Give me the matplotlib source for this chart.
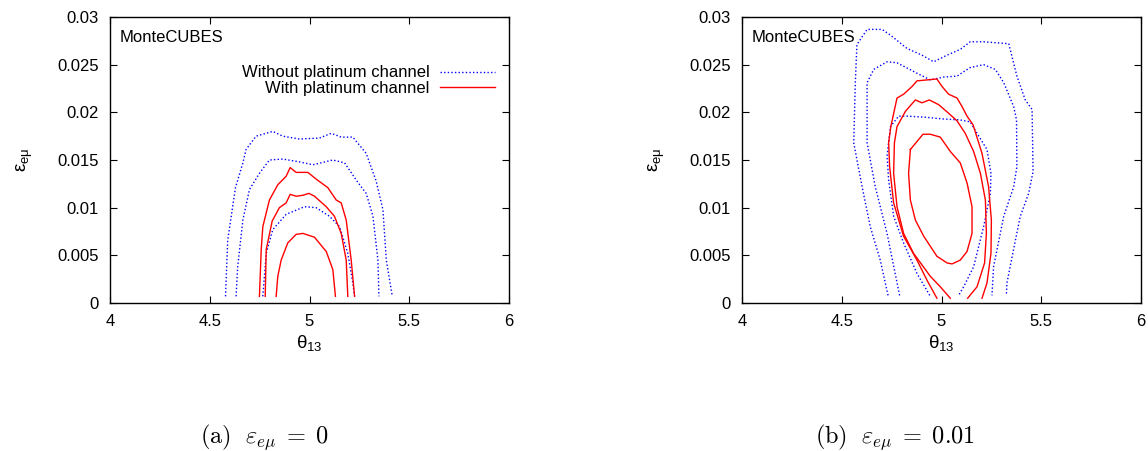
import matplotlib
matplotlib.use("Agg")
import matplotlib.pyplot as plt

plt.rcParams["font.family"] = ["Liberation Sans", "DejaVu Sans"]
plt.rcParams["mathtext.fontset"] = "custom"
plt.rcParams["mathtext.rm"] = "Liberation Sans"
plt.rcParams["mathtext.it"] = "Liberation Sans"
plt.rcParams["mathtext.bf"] = "Liberation Sans"

# ---- panel (a): eps_emu = 0 ----
a_blue_out_t = [4.579, 4.590, 4.629, 4.666, 4.682, 4.732, 4.816, 4.866, 4.950, 5.050, 5.109,
                5.159, 5.217, 5.284, 5.334, 5.368, 5.385, 5.415]
a_blue_out_e = [0.0007, 0.0066, 0.0121, 0.0147, 0.0161, 0.0175, 0.0180, 0.0175, 0.0172, 0.0173,
                0.0178, 0.0174, 0.0174, 0.0157, 0.0128, 0.0098, 0.0045, 0.0007]
a_blue_mid_t = [4.632, 4.640, 4.666, 4.699, 4.749, 4.799, 4.866, 4.950, 5.017, 5.117, 5.176,
                5.234, 5.284, 5.318, 5.343, 5.348]
a_blue_mid_e = [0.0007, 0.0038, 0.0087, 0.0119, 0.0136, 0.0150, 0.0151, 0.0148, 0.0145, 0.0150,
                0.0147, 0.0129, 0.0115, 0.0091, 0.0045, 0.0007]
a_blue_in_t = [4.766, 4.783, 4.816, 4.883, 4.975, 5.033, 5.100, 5.151, 5.192, 5.217, 5.226]
a_blue_in_e = [0.0007, 0.0052, 0.0077, 0.0093, 0.0101, 0.0100, 0.0091, 0.0080, 0.0052, 0.0021, 0.0007]

a_red_out_t = [4.749, 4.758, 4.766, 4.799, 4.841, 4.883, 4.903, 4.933, 4.992, 5.033, 5.092,
               5.134, 5.159, 5.184, 5.209, 5.226]
a_red_out_e = [0.0007, 0.0056, 0.0080, 0.0108, 0.0124, 0.0133, 0.0142, 0.0137, 0.0137, 0.0130,
               0.0121, 0.0108, 0.0105, 0.0087, 0.0045, 0.0007]
a_red_mid_t = [4.778, 4.783, 4.813, 4.849, 4.883, 4.903, 4.933, 4.967, 4.997, 5.025, 5.084,
               5.125, 5.159, 5.184, 5.192]
a_red_mid_e = [0.0007, 0.0056, 0.0086, 0.0100, 0.0105, 0.0114, 0.0112, 0.0113, 0.0115, 0.0112,
               0.0101, 0.0091, 0.0073, 0.0045, 0.0007]
a_red_in_t = [4.833, 4.841, 4.858, 4.891, 4.933, 4.967, 5.025, 5.084, 5.117, 5.130]
a_red_in_e = [0.0007, 0.0028, 0.0045, 0.0063, 0.0072, 0.0073, 0.0069, 0.0054, 0.0035, 0.0007]

# ---- panel (b): eps_emu = 0.01 ----
b_blue_out_t = [4.732, 4.693, 4.643, 4.602, 4.560, 4.568, 4.576, 4.627, 4.702, 4.744, 4.827,
                4.902, 4.961, 5.028, 5.094, 5.144, 5.211, 5.337, 5.378, 5.420, 5.454, 5.459,
                5.437, 5.395, 5.361, 5.328, 5.325]
b_blue_out_e = [0.0008, 0.0045, 0.0080, 0.0122, 0.0168, 0.0231, 0.0271, 0.0287, 0.0287, 0.0281,
                0.0267, 0.0260, 0.0253, 0.0260, 0.0266, 0.0274, 0.0274, 0.0272, 0.0238, 0.0213,
                0.0203, 0.0138, 0.0115, 0.0091, 0.0056, 0.0021, 0.0008]
b_blue_mid_t = [4.790, 4.727, 4.668, 4.627, 4.627, 4.660, 4.727, 4.777, 4.877, 4.944, 5.011,
                5.078, 5.144, 5.211, 5.270, 5.312, 5.362, 5.376, 5.378, 5.362, 5.312, 5.261, 5.253]
b_blue_mid_e = [0.0008, 0.0073, 0.0122, 0.0168, 0.0231, 0.0245, 0.0253, 0.0252, 0.0241, 0.0234,
                0.0237, 0.0238, 0.0247, 0.0250, 0.0245, 0.0231, 0.0206, 0.0192, 0.0143, 0.0122,
                0.0091, 0.0038, 0.0008]
b_blue_in_t = [4.941, 4.877, 4.810, 4.760, 4.735, 4.727, 4.744, 4.785, 4.827, 4.911, 5.011,
               5.094, 5.144, 5.178, 5.228, 5.248, 5.245, 5.211, 5.161, 5.111, 5.086]
b_blue_in_e = [0.0008, 0.0031, 0.0063, 0.0091, 0.0129, 0.0154, 0.0185, 0.0196, 0.0196, 0.0195,
               0.0193, 0.0192, 0.0190, 0.0178, 0.0161, 0.0136, 0.0115, 0.0080, 0.0038, 0.0017, 0.0008]

b_red_out_t = [4.977, 4.927, 4.877, 4.810, 4.760, 4.740, 4.735, 4.746, 4.777, 4.810, 4.852,
               4.877, 4.927, 4.977, 5.003, 5.036, 5.078, 5.103, 5.128, 5.158, 5.203, 5.236,
               5.250, 5.248, 5.228, 5.203]
b_red_out_e = [0.0005, 0.0024, 0.0045, 0.0070, 0.0105, 0.0143, 0.0168, 0.0185, 0.0215, 0.0219,
               0.0227, 0.0233, 0.0234, 0.0235, 0.0227, 0.0219, 0.0215, 0.0206, 0.0196, 0.0187,
               0.0157, 0.0122, 0.0087, 0.0052, 0.0021, 0.0005]
b_red_mid_t = [5.044, 4.994, 4.944, 4.860, 4.810, 4.777, 4.760, 4.764, 4.777, 4.819, 4.869,
               4.902, 4.939, 4.986, 5.036, 5.078, 5.119, 5.161, 5.195, 5.220, 5.225, 5.216,
               5.178, 5.131]
b_red_mid_e = [0.0005, 0.0017, 0.0028, 0.0052, 0.0073, 0.0101, 0.0136, 0.0168, 0.0185, 0.0201,
               0.0213, 0.0210, 0.0213, 0.0208, 0.0199, 0.0191, 0.0178, 0.0159, 0.0136, 0.0108,
               0.0073, 0.0042, 0.0017, 0.0005]
b_red_in_t = [4.844, 4.907, 4.944, 4.994, 5.044, 5.094, 5.128, 5.153, 5.153, 5.128, 5.094,
              5.053, 5.028, 4.977, 4.911, 4.869, 4.844, 4.835, 4.844]
b_red_in_e = [0.0161, 0.0177, 0.0177, 0.0174, 0.0159, 0.0147, 0.0126, 0.0101, 0.0073, 0.0054,
              0.0045, 0.0041, 0.0042, 0.0049, 0.0070, 0.0087, 0.0108, 0.0136, 0.0161]

x_ticks = [4, 4.5, 5, 5.5, 6]
x_tick_labels = ["4", "4.5", "5", "5.5", "6"]
y_ticks = [0, 0.005, 0.01, 0.015, 0.02, 0.025, 0.03]
y_tick_labels = ["0", "0.005", "0.01", "0.015", "0.02", "0.025", "0.03"]

BLUE = "#0000ff"
RED = "#ff0000"
FS = 12

fig = plt.figure(figsize=(11.48, 4.51), dpi=100)
ax_a = fig.add_axes([110 / 1148, 1 - 303 / 451, 399 / 1148, 286 / 451])
ax_b = fig.add_axes([742 / 1148, 1 - 303 / 451, 399 / 1148, 286 / 451])

blue_kw = dict(color=BLUE, lw=1.0, ls=(0, (1, 1.6)))
red_kw = dict(color=RED, lw=1.0)

ax_a.plot(a_blue_out_t, a_blue_out_e, label="Without platinum channel", **blue_kw)
ax_a.plot(a_blue_mid_t, a_blue_mid_e, **blue_kw)
ax_a.plot(a_blue_in_t, a_blue_in_e, **blue_kw)
ax_a.plot(a_red_out_t, a_red_out_e, label="With platinum channel", **red_kw)
ax_a.plot(a_red_mid_t, a_red_mid_e, **red_kw)
ax_a.plot(a_red_in_t, a_red_in_e, **red_kw)

ax_b.plot(b_blue_out_t, b_blue_out_e, **blue_kw)
ax_b.plot(b_blue_mid_t, b_blue_mid_e, **blue_kw)
ax_b.plot(b_blue_in_t, b_blue_in_e, **blue_kw)
ax_b.plot(b_red_out_t, b_red_out_e, **red_kw)
ax_b.plot(b_red_mid_t, b_red_mid_e, **red_kw)
ax_b.plot(b_red_in_t, b_red_in_e, **red_kw)

for ax in (ax_a, ax_b):
    ax.set_xlim(4, 6)
    ax.set_ylim(0, 0.03)
    ax.set_xticks(x_ticks)
    ax.set_xticklabels(x_tick_labels, fontsize=FS)
    ax.set_yticks(y_ticks)
    ax.set_yticklabels(y_tick_labels, fontsize=FS)
    ax.tick_params(direction="in", top=True, right=True, length=5, width=0.8, pad=8)
    ax.set_xlabel(r"$\theta_{13}$", fontsize=13.5, labelpad=3)
    ax.set_ylabel(r"$\varepsilon_{e\mu}$", fontsize=13.5, labelpad=16)
    ax.text(0.025, 0.93, "MonteCUBES", transform=ax.transAxes, fontsize=FS,
            ha="left", va="center")
    for sp in ax.spines.values():
        sp.set_linewidth(1.0)

ax_a.legend(loc="upper right", bbox_to_anchor=(0.985, 0.86), frameon=False,
            markerfirst=False, fontsize=FS, handlelength=3.3, handletextpad=0.6,
            labelspacing=0.05, borderpad=0.0)

fig.text(200 / 1148, 1 - 437 / 451, r"$\mathrm{(a)}\ \ \varepsilon_{e\mu}\;=\;0$",
         fontsize=17.5, math_fontfamily="cm", ha="left", va="center")
fig.text(815 / 1148, 1 - 437 / 451, r"$\mathrm{(b)}\ \ \varepsilon_{e\mu}\;=\;0.01$",
         fontsize=17.5, math_fontfamily="cm", ha="left", va="center")

fig.savefig("out.png", dpi=100)
